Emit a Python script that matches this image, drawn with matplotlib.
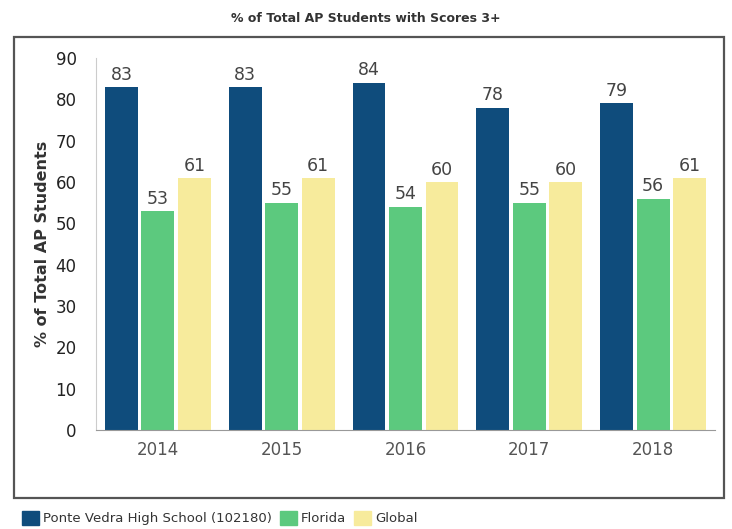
import matplotlib.pyplot as plt
import matplotlib.patches as mpatches
import numpy as np

# datos
anios = ["2014", "2015", "2016", "2017", "2018"]
ponte_vedra = [83, 83, 84, 78, 79]
florida = [53, 55, 54, 55, 56]
global_ = [61, 61, 60, 60, 61]

series = ["Ponte Vedra High School (102180)", "Florida", "Global"]
colores = ["#0f4c7c", "#5cc97e", "#f7eb9c"]

W, H = 732, 529
fig = plt.figure(figsize=(W / 100, H / 100), dpi=100)

# marco exterior
marco = mpatches.Rectangle((14 / W, 1 - 498 / H), (724 - 14) / W, (498 - 37) / H,
                           transform=fig.transFigure, fill=False,
                           edgecolor="#555555", linewidth=1.6)
fig.patches.append(marco)

ax = fig.add_axes([96 / W, 1 - 430 / H, (715 - 96) / W, (430 - 58) / H])

x = np.arange(len(anios))
ancho = 0.265
paso = 0.295
valores = [ponte_vedra, florida, global_]

for i, (vals, col) in enumerate(zip(valores, colores)):
    barras = ax.bar(x + (i - 1) * paso, vals, ancho, color=col, label=series[i])
    for b, v in zip(barras, vals):
        ax.text(b.get_x() + b.get_width() / 2, v + 0.8, str(v),
                ha="center", va="bottom", fontsize=12.5, color="#444444")

ax.set_xlim(-0.5, len(anios) - 0.5)
ax.set_ylim(0, 90)
ax.set_yticks(range(0, 91, 10))
ax.set_xticks(x)
ax.set_xticklabels(anios, fontsize=12, color="#555555")
ax.tick_params(axis="y", labelsize=12, colors="#222222", length=0, pad=14)
ax.tick_params(axis="x", length=0, pad=8)

for s in ["top", "right"]:
    ax.spines[s].set_visible(False)
ax.spines["left"].set_color("#cccccc")
ax.spines["bottom"].set_color("#999999")

ax.set_ylabel("% of Total AP Students", fontsize=11.5, fontweight="bold",
              color="#333333", labelpad=4)

fig.text(0.5, 1 - 18 / H, "% of Total AP Students with Scores 3+",
         ha="center", va="center", fontsize=9, fontweight="bold", color="#333333")

# leyenda inferior
handles = [mpatches.Patch(color=c) for c in colores]
fig.legend(handles, series, loc="center left", bbox_to_anchor=(10 / W, 1 - 518 / H),
           ncol=3, frameon=False, fontsize=9.5, handlelength=1.3, handleheight=1.3,
           handletextpad=0.3, columnspacing=0.6, labelcolor="#333333")

fig.savefig("out.png", dpi=100)
